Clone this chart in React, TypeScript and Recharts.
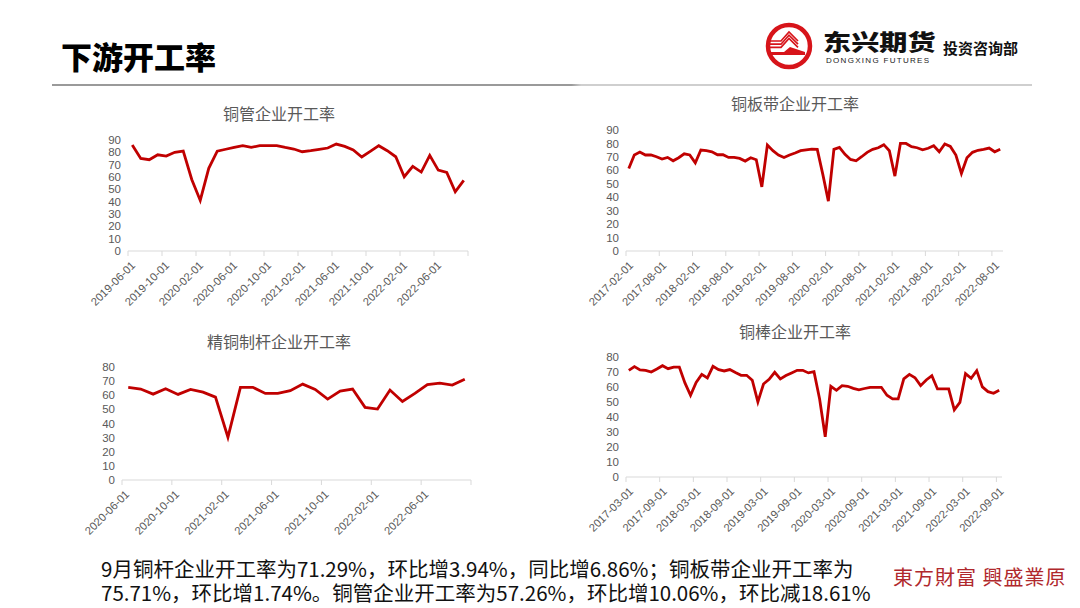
import React from "react"
import { LineChart, Line, XAxis, YAxis } from "recharts"

// monthly categories as "YYYY-MM-01"
function monthList(year: number, month: number, count: number) {
  const out: string[] = []
  for (let k = 0; k < count; k++) {
    const m = month - 1 + k
    const y = year + Math.floor(m / 12)
    out.push(`${y}-${String((m % 12) + 1).padStart(2, "0")}-01`)
  }
  return out
}

// 铜管
const tubeMonths = monthList(2019, 6, 40)
const tubeValues = [
  86, 75, 74, 78, 77, 80, 81, 58, 41, 67, 81, 82.5, 84, 85.4, 84, 85.4, 85.5, 85.5, 84, 82.7,
  80.5, 81.3, 82.4, 83.5, 86.7, 84.8, 82, 76.2, 80.8, 85.4, 81.3, 76.4, 60.2, 68.6, 64, 77.5,
  65.6, 63.7, 48, 57.26,
]
const tubeTicks = [
  "2019-06-01", "2019-10-01", "2020-02-01", "2020-06-01", "2020-10-01",
  "2021-02-01", "2021-06-01", "2021-10-01", "2022-02-01", "2022-06-01",
]

// 铜板带
const stripMonths = monthList(2017, 2, 68)
const stripValues = [
  61.4, 71.4, 73.6, 71.4, 71.4, 70.1, 68.4, 69.6, 67.1, 69.4,
  72.3, 71.4, 65.6, 75.1, 74.6, 73.8, 71.6, 71.6, 69.6, 69.6,
  68.9, 66.9, 69.4, 67.9, 47.7, 78.8, 74.6, 71.4, 69.6, 71.4,
  72.9, 74.6, 75.3, 75.8, 75.6, 57, 37.1, 75.6, 77.1, 71.9,
  68.1, 67.1, 70.1, 73.4, 75.6, 76.8, 79.1, 74.6, 55.7, 80.1,
  80, 77.6, 76.8, 75.3, 76.4, 78.3, 73.8, 79.6, 77.8, 71.4,
  57.7, 69.4, 73.4, 74.9, 75.6, 76.6, 73.8, 75.71,
]
const stripTicks = [
  "2017-02-01", "2017-08-01", "2018-02-01", "2018-08-01", "2019-02-01", "2019-08-01",
  "2020-02-01", "2020-08-01", "2021-02-01", "2021-08-01", "2022-02-01", "2022-08-01",
]

// 精铜制杆
const rodMonths = monthList(2020, 6, 28)
const rodValues = [
  65.6, 64.4, 60.8, 64.6, 60.6, 64.1, 62.2, 58.7, 30.3, 65.6, 65.6, 61.3, 61.3, 63.2,
  67.9, 64.1, 57.3, 63, 64.4, 51.4, 50.2, 63.7, 55.6, 61.3, 67.5, 68.6, 67.2, 71.29,
]
const rodTicks = [
  "2020-06-01", "2020-10-01", "2021-02-01", "2021-06-01", "2021-10-01", "2022-02-01", "2022-06-01",
]

// 铜棒
const barMonths = monthList(2017, 3, 67)
const barValues = [
  71.1, 73.6, 71.4, 71.1, 70, 72, 74.2, 72.2, 73.3, 73.3,
  62.7, 54.5, 63.1, 68.4, 66, 73.8, 71.6, 70.7, 71.6, 69.6,
  67.8, 67.8, 64.5, 50.1, 62, 65.1, 69.8, 65.4, 67.6, 69.4,
  71.1, 71.1, 69.4, 70.2, 52, 26.8, 60.5, 57.8, 60.9, 60.5,
  59.1, 58.1, 59, 59.8, 59.8, 59.8, 54.5, 52.1, 52.1, 65.4,
  68.4, 66.2, 60.9, 64.7, 67.6, 58.7, 58.7, 58.7, 44.8, 49.8,
  68.9, 65.8, 70.9, 60.1, 56.9, 55.8, 57.8,
]
const barTicks = [
  "2017-03-01", "2017-09-01", "2018-03-01", "2018-09-01", "2019-03-01", "2019-09-01",
  "2020-03-01", "2020-09-01", "2021-03-01", "2021-09-01", "2022-03-01", "2022-09-01",
]

const yTicks90 = [0, 10, 20, 30, 40, 50, 60, 70, 80, 90]
const yTicks80 = [0, 10, 20, 30, 40, 50, 60, 70, 80]

const GRAY = "#595959"
const AXIS = "#d9d9d9"
const RED = "#c00000"
const CJK = '"Noto Sans CJK SC", "Noto Sans", sans-serif'
const LATIN = '"Liberation Sans", Arial, "Noto Sans CJK SC", sans-serif'
const PAD = 40 // room on the left for the rotated first date label

const DateTick = (props: any) => {
  const { x, y, payload, months } = props
  const text = months[Math.round(payload.value + 0.5)] ?? ""
  const ax = x + 8
  const ay = y + 10
  return (
    <text x={ax} y={ay} transform={`rotate(-45 ${ax} ${ay})`} textAnchor="end" fontSize={11.2} fill={GRAY} fontFamily={LATIN}>
      {text}
    </text>
  )
}

interface PanelProps {
  title: string
  months: string[]
  values: number[]
  tickLabels: string[]
  yTicks: number[]
  closeEnd?: boolean
  left: number
  top: number
  width: number
  height: number
  titleX: number
  titleY: number
}

function Panel(p: PanelProps) {
  const data = p.months.map((m, i) => ({ i, month: m, v: p.values[i] }))
  const n = p.months.length
  const hidden = p.tickLabels.map((l) => p.months.indexOf(l) - 0.5)
  const ticks = p.closeEnd ? [...hidden, n - 0.5] : hidden
  const labelled = p.months.map((m) => (p.tickLabels.includes(m) ? m : ""))
  return (
    <>
      <div
        style={{
          position: "absolute", left: p.titleX - 150, top: p.titleY - 10, width: 300, height: 20,
          lineHeight: "20px", textAlign: "center", fontSize: 16, color: GRAY, fontFamily: CJK,
        }}
      >
        {p.title}
      </div>
      <div style={{ position: "absolute", left: p.left - PAD, top: p.top }}>
        <LineChart width={p.width + PAD} height={p.height} data={data} margin={{ top: 10, right: 4, left: PAD, bottom: 0 }}>
          <XAxis
            type="number"
            dataKey="i"
            domain={[-0.5, n - 0.5]}
            ticks={ticks}
            interval={0}
            tickSize={5}
            tickMargin={0}
            height={60}
            axisLine={{ stroke: AXIS }}
            tickLine={{ stroke: AXIS }}
            tick={(tp: any) => <DateTick {...tp} months={labelled} />}
          />
          <YAxis
            domain={[0, p.yTicks[p.yTicks.length - 1]]}
            ticks={p.yTicks}
            interval={0}
            width={36}
            axisLine={false}
            tickLine={false}
            tickSize={6}
            tickMargin={1}
            tick={{ fontSize: 11.5, fill: GRAY, fontFamily: LATIN }}
          />
          <Line type="linear" dataKey="v" stroke={RED} strokeWidth={2.8} dot={false} isAnimationActive={false} />
        </LineChart>
      </div>
    </>
  )
}

function Logo() {
  return (
    <svg style={{ position: "absolute", left: 762, top: 22 }} width={56} height={50}>
      <circle cx={27} cy={24} r={21} fill="none" stroke="#d7141a" strokeWidth={4.5} />
      {[0, 3.2, 6.4].map((d) => (
        <polyline key={d} points={`${8},${19 + d} ${19},${19 + d} ${27},${10 + d} ${36},${19 + d}`} fill="none" stroke="#d7141a" strokeWidth={1.7} />
      ))}
      <polygon points="9,30 22,30 28,25 43,30 43,33 9,33" fill="#d7141a" />
    </svg>
  )
}

export default function App() {
  return (
    <div
      style={{
        position: "absolute", left: 0, top: 0, width: 1080, height: 608, background: "#fff",
        overflow: "hidden", fontFamily: LATIN,
      }}
    >
      <div style={{ position: "absolute", left: 61, top: 39, fontSize: 31, lineHeight: "34px", fontWeight: 900, color: "#000", fontFamily: CJK }}>
        下游开工率
      </div>
      <div
        style={{
          position: "absolute", left: 52, top: 84, width: 980, height: 2,
          background: "linear-gradient(to right, #9a9a9a 0%, #9a9a9a 53%, #cfcfcf 54%, #cfcfcf 100%)",
        }}
      />
      <Logo />
      <div
        style={{
          position: "absolute", left: 823, top: 27, fontSize: 22, lineHeight: "26px", fontWeight: 900,
          color: "#111", fontFamily: CJK, transform: "scaleX(1.28)", transformOrigin: "left center",
        }}
      >
        东兴期货
      </div>
      <div style={{ position: "absolute", left: 826, top: 56, fontSize: 8, lineHeight: "9px", letterSpacing: 1.3, color: "#222", fontFamily: LATIN }}>
        DONGXING FUTURES
      </div>
      <div style={{ position: "absolute", left: 943, top: 39, fontSize: 15, lineHeight: "18px", fontWeight: 700, color: "#111", fontFamily: CJK }}>
        投资咨询部
      </div>

      <Panel title="铜管企业开工率" months={tubeMonths} values={tubeValues} tickLabels={tubeTicks} yTicks={yTicks90} closeEnd
        left={92} top={130} width={380} height={181} titleX={279} titleY={113} />
      <Panel title="铜板带企业开工率" months={stripMonths} values={stripValues} tickLabels={stripTicks} yTicks={yTicks90}
        left={590} top={120} width={417} height={191} titleX={795} titleY={103} />
      <Panel title="精铜制杆企业开工率" months={rodMonths} values={rodValues} tickLabels={rodTicks} yTicks={yTicks80} closeEnd
        left={86} top={357} width={389} height={183} titleX={279} titleY={341} />
      <Panel title="铜棒企业开工率" months={barMonths} values={barValues} tickLabels={barTicks} yTicks={yTicks80}
        left={590} top={347} width={416} height={190} titleX={795} titleY={331} />

      <div style={{ position: "absolute", left: 101, top: 556, fontSize: 20.5, lineHeight: "24px", color: "#111", fontFamily: CJK, whiteSpace: "nowrap" }}>
        9月铜杆企业开工率为71.29%，环比增3.94%，同比增6.86%；铜板带企业开工率为
        <br />
        75.71%，环比增1.74%。铜管企业开工率为57.26%，环比增10.06%，环比减18.61%
      </div>
      <div style={{ position: "absolute", left: 893, top: 564, fontSize: 20, lineHeight: "26px", color: "#b0282c", fontFamily: '"Noto Sans CJK TC", sans-serif', letterSpacing: 1 }}>
        東方財富 興盛業原
      </div>
    </div>
  )
}
